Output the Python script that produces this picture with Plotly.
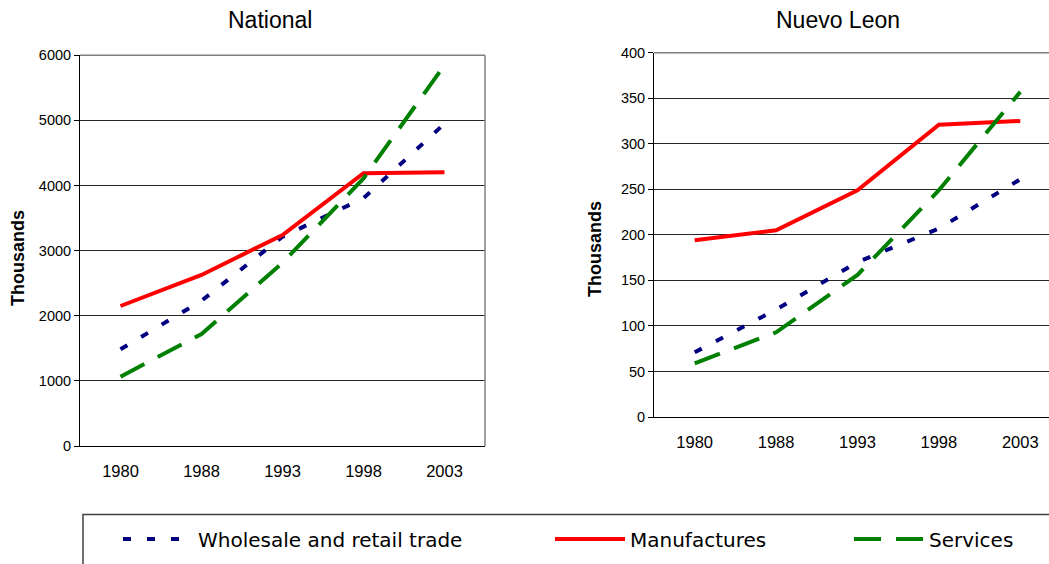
import plotly.graph_objects as go

# Employment by sector, thousands of workers
years = ["1980", "1988", "1993", "1998", "2003"]

national_trade = [1485, 2230, 3215, 3805, 4950]
national_manuf = [2150, 2627, 3240, 4190, 4205]
national_services = [1065, 1720, 2815, 4110, 5850]

nl_trade = [71, 118, 170, 207, 261]
nl_manuf = [194, 205, 249, 321, 325]
nl_services = [59, 93, 156, 249, 357]

series_names = ["Wholesale and retail trade", "Manufactures", "Services"]

W, H = 1049, 564


def px_x(v):
    return v / W


def px_y(v):
    return 1 - v / H


styles = [
    dict(color="#000080", width=4, dash="8px,16px"),
    dict(color="#FF0000", width=4, dash="solid"),
    dict(color="#008000", width=4, dash="27px,15px"),
]
legend_ids = ["legend", "legend2", "legend3"]

fig = go.Figure()

national = [national_trade, national_manuf, national_services]
regional = [nl_trade, nl_manuf, nl_services]

for i, name in enumerate(series_names):
    fig.add_trace(go.Scatter(
        x=years, y=national[i], mode="lines", name=name,
        line=styles[i], xaxis="x", yaxis="y",
        legend=legend_ids[i], showlegend=True,
    ))
for i, name in enumerate(series_names):
    fig.add_trace(go.Scatter(
        x=years, y=regional[i], mode="lines", name=name,
        line=styles[i], xaxis="x2", yaxis="y2", showlegend=False,
    ))

axis_font = "Liberation Sans, Arial, sans-serif"
grid_color = "#262626"

common_x = dict(
    type="category", showline=True, linecolor="#000000", linewidth=1,
    ticks="", showgrid=False, zeroline=False,
    tickfont=dict(family=axis_font, size=16.5, color="#000000"),
    ticklabelstandoff=10,
)
common_y = dict(
    showline=True, linecolor="#000000", linewidth=1,
    ticks="outside", ticklen=5, tickcolor="#000000", tickwidth=1,
    showgrid=True, gridcolor=grid_color, gridwidth=1, zeroline=False,
    tickfont=dict(family=axis_font, size=14.5, color="#000000"),
)

fig.update_layout(
    width=W, height=H,
    margin=dict(l=0, r=0, t=0, b=0, autoexpand=False),
    paper_bgcolor="#ffffff", plot_bgcolor="#ffffff",
    xaxis=dict(common_x, domain=[px_x(80), px_x(485)], range=[-0.5, 4.5], anchor="y"),
    yaxis=dict(common_y, domain=[px_y(446), px_y(55.3)], range=[0, 6000], dtick=1000, anchor="x"),
    xaxis2=dict(common_x, domain=[px_x(654), 1.0], range=[-0.5, 4.353], anchor="y2"),
    yaxis2=dict(common_y, domain=[px_y(417), px_y(52.7)], range=[0, 400], dtick=50, anchor="x2"),
)

# One legend per series so each entry sits at its own position in the strip
legend_text_x = [200, 632, 931]
for lid, tx in zip(legend_ids, legend_text_x):
    fig.update_layout({lid: dict(
        x=px_x(tx - 82), xanchor="left",
        y=px_y(539), yanchor="middle",
        orientation="h", itemwidth=70,
        bgcolor="rgba(0,0,0,0)", borderwidth=0,
        font=dict(family="DejaVu Sans, sans-serif", size=20, color="#000000"),
    )})

# Gray plot-area frame edges (top and right)
frame = dict(color="#808080", width=1.5)
for xr, yr in (("x", "y"), ("x2", "y2")):
    fig.add_shape(type="line", xref=f"{xr} domain", yref=f"{yr} domain",
                  x0=0, x1=1, y0=1, y1=1, line=frame, layer="above")
fig.add_shape(type="line", xref="x domain", yref="y domain",
              x0=1, x1=1, y0=0, y1=1, line=frame, layer="above")

# Legend frame: left and top edges (the rest runs past the page)
lx, ly = px_x(83), px_y(514.5)
fig.add_shape(type="path", xref="paper", yref="paper",
              path=f"M {lx},0 L {lx},{ly} L 1,{ly}",
              line=dict(color="#404040", width=1.5), layer="above")

title_font = dict(family=axis_font, size=23, color="#000000")
fig.add_annotation(text="National", x=px_x(270), y=px_y(20), xref="paper", yref="paper",
                   showarrow=False, font=title_font, xanchor="center", yanchor="middle")
fig.add_annotation(text="Nuevo Leon", x=px_x(838), y=px_y(20), xref="paper", yref="paper",
                   showarrow=False, font=title_font, xanchor="center", yanchor="middle")

ytitle_font = dict(family=axis_font, size=18, color="#000000")
fig.add_annotation(text="<b>Thousands</b>", x=px_x(18), y=px_y(258), xref="paper", yref="paper",
                   showarrow=False, font=ytitle_font, textangle=-90,
                   xanchor="center", yanchor="middle")
fig.add_annotation(text="<b>Thousands</b>", x=px_x(595), y=px_y(249), xref="paper", yref="paper",
                   showarrow=False, font=ytitle_font, textangle=-90,
                   xanchor="center", yanchor="middle")

fig.write_html("out.html")
